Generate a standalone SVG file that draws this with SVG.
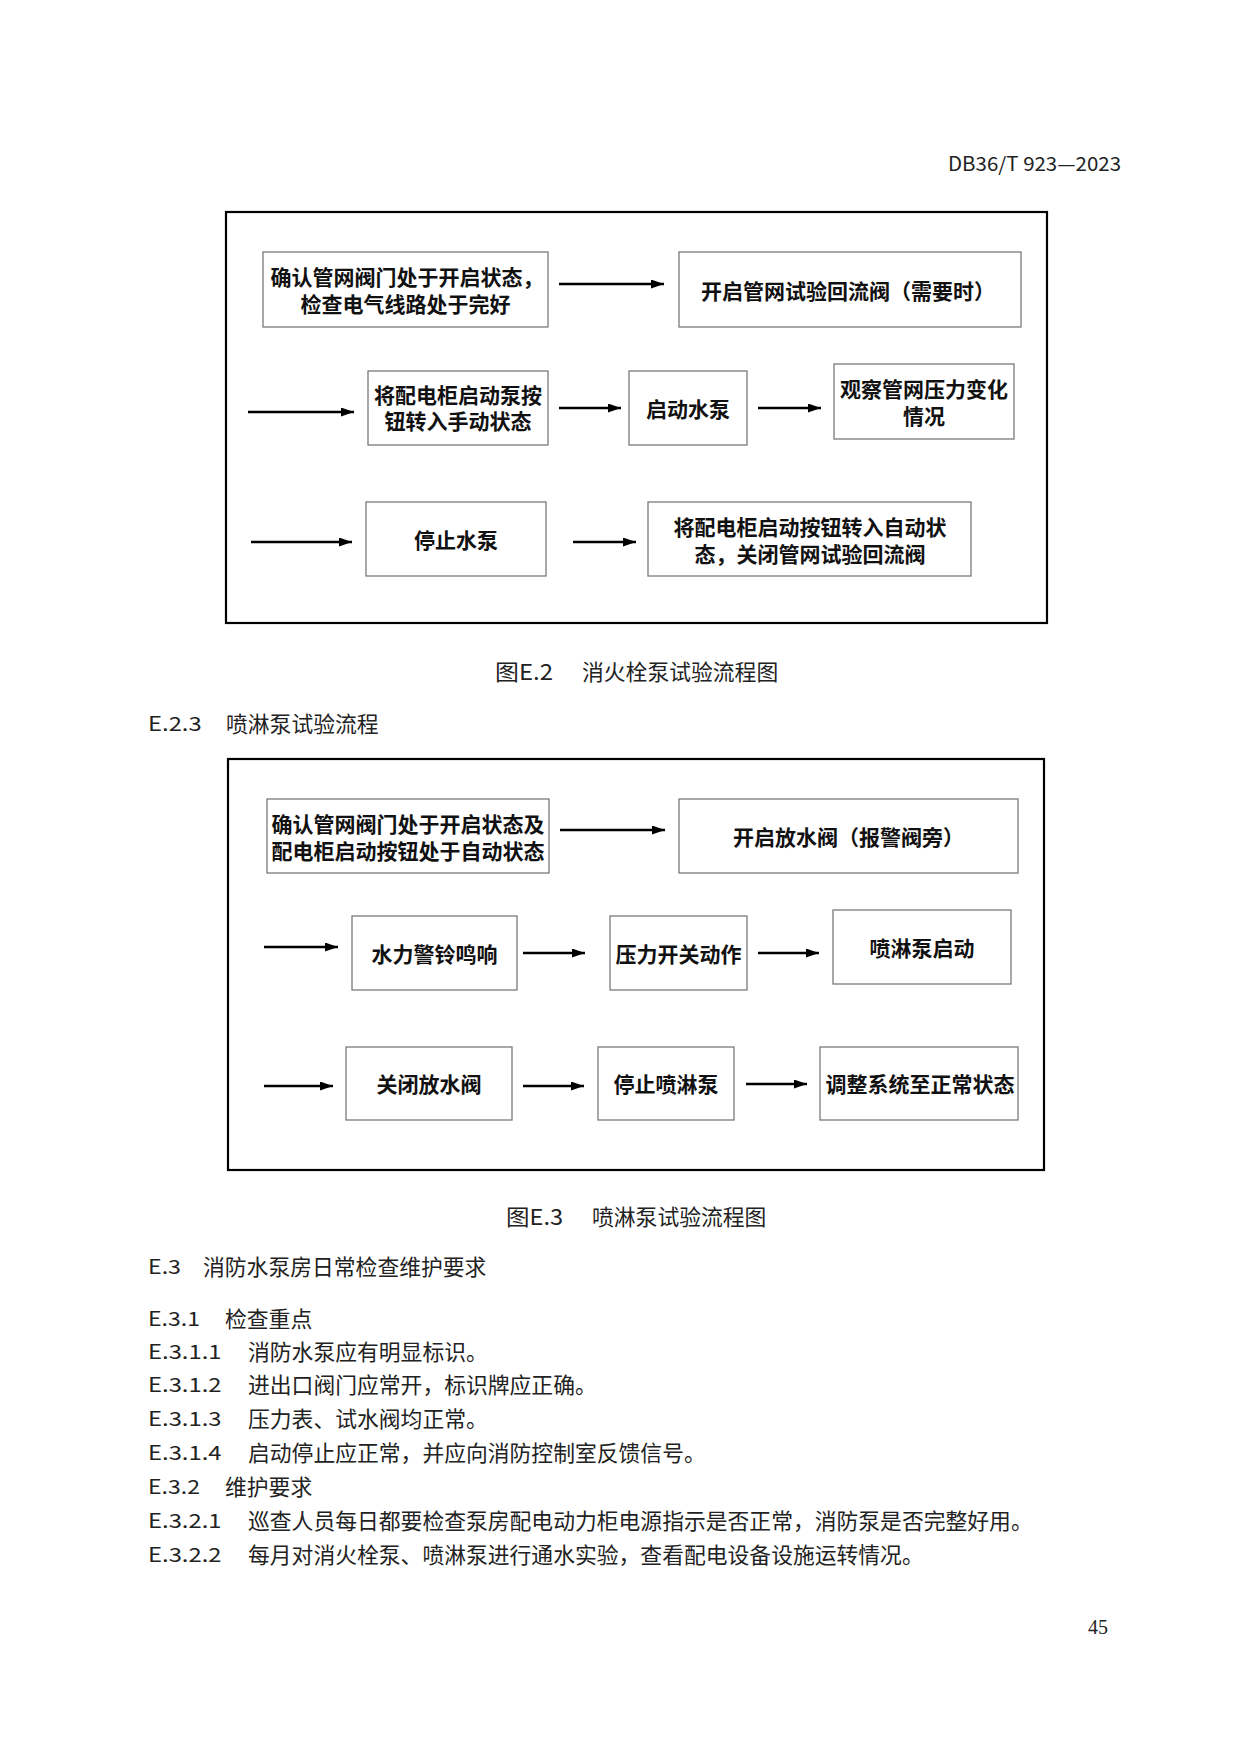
<svg xmlns="http://www.w3.org/2000/svg" width="1241" height="1754" viewBox="0 0 1241 1754">
<style>
.frame{fill:none;stroke:#000;stroke-width:2.2}
.box{fill:#fff;stroke:#7a7a7a;stroke-width:1.3}
.bt{font-family:"Noto Sans CJK SC","Noto Sans",sans-serif;font-size:21px;font-weight:700;fill:#111;text-anchor:middle;dominant-baseline:central}
.tx{font-family:"Noto Sans CJK SC","Noto Sans",sans-serif;font-size:21.8px;fill:#222;dominant-baseline:central}
.num{font-family:"Noto Sans CJK SC","Noto Sans",sans-serif;font-size:19.5px;fill:#222;dominant-baseline:central}
.arr{stroke:#000;stroke-width:2.6;fill:none;marker-end:url(#ah)}
</style>
<defs>
<marker id="ah" markerUnits="userSpaceOnUse" markerWidth="14" markerHeight="10" refX="13" refY="4.5" orient="auto">
<path d="M0,0 L13,4.5 L0,9 z" fill="#000"/>
</marker>
</defs>
<rect width="1241" height="1754" fill="#fff"/>

<text id="header" class="num" x="948" y="162" font-size="20.5" textLength="173" lengthAdjust="spacingAndGlyphs">DB36/T 923—2023</text>

<!-- Figure E.2 -->
<rect id="frameE2" class="frame" x="226" y="212" width="821" height="411"/>
<g id="e2n1"><rect class="box" x="263" y="252" width="285" height="75"/><text class="bt" x="407" y="276">确认管网阀门处于开启状态，</text><text class="bt" x="405.5" y="303">检查电气线路处于完好</text></g>
<g id="e2n2"><rect class="box" x="679" y="252" width="342" height="75"/><text class="bt" x="848" y="289.5">开启管网试验回流阀（需要时）</text></g>
<g id="e2n3"><rect class="box" x="368" y="371" width="180" height="74"/><text class="bt" x="458" y="393.5">将配电柜启动泵按</text><text class="bt" x="458" y="420">钮转入手动状态</text></g>
<g id="e2n4"><rect class="box" x="629" y="371" width="118" height="74"/><text class="bt" x="688" y="408">启动水泵</text></g>
<g id="e2n5"><rect class="box" x="834" y="364" width="180" height="75"/><text class="bt" x="924" y="388">观察管网压力变化</text><text class="bt" x="924" y="414.5">情况</text></g>
<g id="e2n6"><rect class="box" x="366" y="502" width="180" height="74"/><text class="bt" x="456" y="539">停止水泵</text></g>
<g id="e2n7"><rect class="box" x="648" y="502" width="323" height="74"/><text class="bt" x="810" y="526">将配电柜启动按钮转入自动状</text><text class="bt" x="810" y="553">态，关闭管网试验回流阀</text></g>
<g id="e2conn">
<line class="arr" x1="559" y1="284" x2="664" y2="284"/>
<line class="arr" x1="248" y1="412" x2="354" y2="412"/>
<line class="arr" x1="559" y1="408" x2="621" y2="408"/>
<line class="arr" x1="758" y1="408" x2="821" y2="408"/>
<line class="arr" x1="251" y1="542" x2="352" y2="542"/>
<line class="arr" x1="573" y1="542" x2="636" y2="542"/>
</g>

<text id="capE2" class="tx" x="495" y="670"><tspan textLength="58" lengthAdjust="spacingAndGlyphs">图E.2</tspan><tspan x="582">消火栓泵试验流程图</tspan></text>

<text class="num" x="148" y="722" textLength="53.7" lengthAdjust="spacingAndGlyphs">E.2.3</text>
<text class="tx" x="226" y="722">喷淋泵试验流程</text>

<!-- Figure E.3 -->
<rect id="frameE3" class="frame" x="228" y="759" width="816" height="411"/>
<g id="e3n1"><rect class="box" x="267" y="799" width="282" height="74"/><text class="bt" x="408" y="822.5">确认管网阀门处于开启状态及</text><text class="bt" x="408" y="849.5">配电柜启动按钮处于自动状态</text></g>
<g id="e3n2"><rect class="box" x="679" y="799" width="339" height="74"/><text class="bt" x="848.5" y="836">开启放水阀（报警阀旁）</text></g>
<g id="e3n3"><rect class="box" x="352" y="916" width="165" height="74"/><text class="bt" x="434.5" y="953">水力警铃鸣响</text></g>
<g id="e3n4"><rect class="box" x="610" y="916" width="137" height="74"/><text class="bt" x="678.5" y="953">压力开关动作</text></g>
<g id="e3n5"><rect class="box" x="833" y="910" width="178" height="74"/><text class="bt" x="922" y="947">喷淋泵启动</text></g>
<g id="e3n6"><rect class="box" x="346" y="1047" width="166" height="73"/><text class="bt" x="429" y="1083">关闭放水阀</text></g>
<g id="e3n7"><rect class="box" x="598" y="1047" width="136" height="73"/><text class="bt" x="666" y="1083">停止喷淋泵</text></g>
<g id="e3n8"><rect class="box" x="820" y="1047" width="198" height="73"/><text class="bt" x="920" y="1083">调整系统至正常状态</text></g>
<g id="e3conn">
<line class="arr" x1="560" y1="830" x2="665" y2="830"/>
<line class="arr" x1="264" y1="947" x2="338" y2="947"/>
<line class="arr" x1="523" y1="953" x2="585" y2="953"/>
<line class="arr" x1="758" y1="953" x2="819" y2="953"/>
<line class="arr" x1="264" y1="1086" x2="333" y2="1086"/>
<line class="arr" x1="523" y1="1086" x2="584" y2="1086"/>
<line class="arr" x1="746" y1="1084" x2="807" y2="1084"/>
</g>

<text id="capE3" class="tx" x="506" y="1215"><tspan textLength="57" lengthAdjust="spacingAndGlyphs">图E.3</tspan><tspan x="592">喷淋泵试验流程图</tspan></text>

<!-- Body text -->
<text class="num" x="148" y="1265" textLength="33" lengthAdjust="spacingAndGlyphs">E.3</text>
<text class="tx" x="203" y="1265">消防水泵房日常检查维护要求</text>

<text class="num" x="148" y="1317" textLength="52" lengthAdjust="spacingAndGlyphs">E.3.1</text>
<text class="tx" x="225" y="1317">检查重点</text>

<text class="num" x="148" y="1350" textLength="73.5" lengthAdjust="spacingAndGlyphs">E.3.1.1</text>
<text class="tx" x="248" y="1350">消防水泵应有明显标识。</text>

<text class="num" x="148" y="1383.5" textLength="73.5" lengthAdjust="spacingAndGlyphs">E.3.1.2</text>
<text class="tx" x="248" y="1383.5">进出口阀门应常开，标识牌应正确。</text>

<text class="num" x="148" y="1417" textLength="73.5" lengthAdjust="spacingAndGlyphs">E.3.1.3</text>
<text class="tx" x="248" y="1417">压力表、试水阀均正常。</text>

<text class="num" x="148" y="1451" textLength="73.5" lengthAdjust="spacingAndGlyphs">E.3.1.4</text>
<text class="tx" x="248" y="1451">启动停止应正常，并应向消防控制室反馈信号。</text>

<text class="num" x="148" y="1485" textLength="52" lengthAdjust="spacingAndGlyphs">E.3.2</text>
<text class="tx" x="225" y="1485">维护要求</text>

<text class="num" x="148" y="1519" textLength="73.5" lengthAdjust="spacingAndGlyphs">E.3.2.1</text>
<text class="tx" x="248" y="1519">巡查人员每日都要检查泵房配电动力柜电源指示是否正常，消防泵是否完整好用。</text>

<text class="num" x="148" y="1553" textLength="73.5" lengthAdjust="spacingAndGlyphs">E.3.2.2</text>
<text class="tx" x="248" y="1553">每月对消火栓泵、喷淋泵进行通水实验，查看配电设备设施运转情况。</text>

<text id="pageno" x="1088" y="1634" font-family="Liberation Serif, serif" font-size="20" fill="#222">45</text>
</svg>
